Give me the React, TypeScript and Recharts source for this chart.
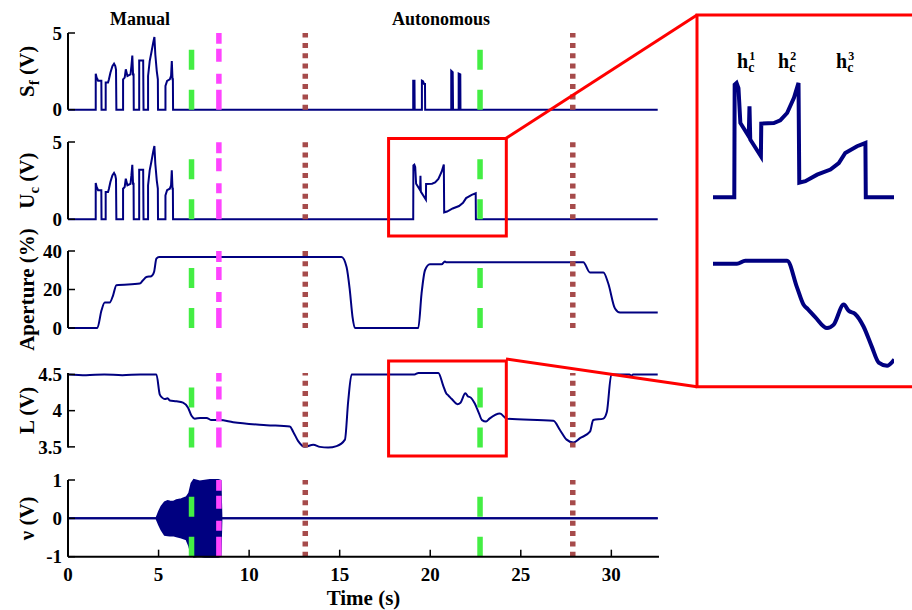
import React from "react"
import {
  LineChart,
  ComposedChart,
  Line,
  Area,
  XAxis,
  YAxis,
  ReferenceLine,
  ReferenceArea,
} from "recharts"

// ---- data (time in s) ----
const X_MAX = 32.63
const X_TICKS = [0, 5, 10, 15, 20, 25, 30]

// event markers
const GREEN_T = [6.82, 22.75]
const MAGENTA_T = [8.33]
const BROWN_T = [13.1, 27.87]

// manual phase: Sf and Uc are identical here
const manualTime = [
  0, 1.53, 1.53, 1.58, 1.62, 1.66, 1.84, 1.85,
  2.08, 2.08, 2.21, 2.26, 2.34, 2.45, 2.54, 2.61, 2.65, 2.67,
  3.04, 3.04, 3.13, 3.19, 3.28, 3.45, 3.5, 3.55, 3.59, 3.62, 3.63,
  3.93, 3.93, 4.15, 4.17,
  4.42, 4.42, 4.51, 4.6, 4.7, 4.77, 4.82, 4.9, 4.96, 4.97,
  5.38, 5.38, 5.47, 5.62, 5.69, 5.73, 5.77, 5.79, 5.8,
]
const manualValue = [
  0, 0, 2.35, 2.09, 2.0, 1.88, 1.88, 0,
  0, 1.77, 1.77, 1.98, 2.41, 2.84, 3.0, 2.84, 2.6, 0,
  0, 1.98, 2.09, 2.63, 2.2, 2.3, 2.84, 3.53, 2.3, 2.3, 0,
  0, 3.21, 3.21, 0,
  0, 2.2, 3.17, 3.71, 4.35, 4.74, 3.6, 2.52, 1.98, 0,
  0, 1.55, 1.88, 1.98, 2.2, 3.17, 1.98, 1.98, 0,
]

// autonomous phase
const sfAutoTime = [19.06, 19.06, 19.13, 19.14, 19.54, 19.54, 19.6, 19.66, 19.71, 19.72, 21.16, 21.16, 21.24, 21.26, 21.57, 21.57, 21.66, 21.67, 32.56]
const sfAutoValue = [0, 1.89, 1.89, 0, 0, 1.89, 1.85, 1.68, 1.68, 0, 0, 2.54, 2.45, 0, 0, 2.35, 2.3, 0, 0]

const ucAutoTime = [18.5, 19.06, 19.07, 19.12, 19.17, 19.22, 19.44, 19.46, 19.48, 19.76, 19.77, 20.1, 20.27, 20.45, 20.63, 20.75, 20.77, 20.93, 21.24, 21.59, 21.81, 21.98, 22.29, 22.51, 22.52, 23.27, 32.56]
const ucAutoValue = [0, 0, 3.49, 3.54, 3.38, 2.3, 1.89, 2.82, 1.79, 1.27, 2.28, 2.3, 2.38, 2.61, 3.08, 3.54, 0.45, 0.5, 0.7, 0.86, 1.06, 1.37, 1.58, 1.68, 0, 0, 0]

const apertureTime = [0, 1.62, 1.85, 2.03, 2.3, 2.49, 2.67, 3.96, 4.14, 4.33, 4.6, 4.75, 4.88, 5.03, 15.1, 15.38, 15.56, 15.71, 15.84, 19.34, 19.52, 19.71, 19.98, 20.63, 20.81, 20.9, 28.45, 28.82, 29.56, 29.83, 30.2, 30.48, 32.56]
const apertureValue = [0, 0, 9.2, 13.2, 13.2, 17, 22.2, 23.1, 24.8, 26.5, 26.9, 29.1, 36, 36.9, 36.9, 31.7, 19.6, 5.7, 0, 0, 17.9, 30, 33.1, 33.1, 34.6, 34.1, 34.1, 28.8, 28.8, 23.1, 10.1, 8, 8]

const lightTime = [
  0, 1, 2, 3, 4, 4.88, 5.07, 5.2, 5.34, 5.5, 5.62, 5.99, 6.35, 6.63, 6.82, 7.0, 7.3, 7.65, 7.92, 8.38,
  9.12, 10.96, 12.25, 12.43, 12.71, 13.08, 13.54, 13.91, 14.36, 14.83, 15.29, 15.47, 15.66, 17, 18.5,
  19.13, 19.35, 20.45, 20.71, 20.88, 21.0, 21.19, 21.5, 21.67, 21.94, 22.07, 22.24, 22.46, 22.68, 22.86,
  23.08, 23.27, 23.85, 24.22, 26.8, 27.17, 27.53, 27.9, 28.27, 28.82, 29.0, 29.56, 29.75, 30.0, 31.0,
  31.1, 31.2, 32.56,
]
const lightValue = [
  4.5, 4.49, 4.5, 4.49, 4.5, 4.5, 4.22, 4.18, 4.16, 4.17, 4.14, 4.13, 4.11, 4.04, 3.93, 3.89, 3.9, 3.9, 3.87, 3.87,
  3.84, 3.8, 3.78, 3.71, 3.58, 3.5, 3.53, 3.5, 3.49, 3.51, 3.6, 4.13, 4.5, 4.5, 4.5,
  4.5, 4.52, 4.52, 4.35, 4.24, 4.21, 4.16, 4.09, 4.11, 4.24, 4.2, 4.18, 4.1, 3.97, 3.87,
  3.85, 3.89, 3.96, 3.89, 3.86, 3.73, 3.6, 3.56, 3.62, 3.71, 3.87, 3.89, 3.98, 4.5, 4.5,
  4.48, 4.5, 4.5,
]

// nu: envelope of the oscillation
const nuTime = [0, 4.88, 5.03, 5.16, 5.34, 5.5, 5.62, 5.8, 5.99, 6.26, 6.54, 6.69, 6.82, 6.95, 7.27, 7.55, 7.83, 8.29, 8.42, 8.47, 32.56]
const nuHigh = [0, 0, 0.18, 0.31, 0.42, 0.45, 0.44, 0.43, 0.47, 0.5, 0.55, 0.65, 0.91, 1.0, 0.96, 0.98, 1.0, 1.0, 0.98, 0, 0]
const nuLow = [0, 0, -0.17, -0.3, -0.43, -0.44, -0.45, -0.44, -0.47, -0.5, -0.55, -0.72, -0.94, -1.0, -0.98, -1.0, -1.0, -1.0, -0.98, 0, 0]

// zoom window shown in the inset
const ZOOM_T = [18.5, 23.27]
const ZOOM_BOX_T = [17.7, 24.2]

const zip = (ts: number[], vs: number[]) => ts.map((t, i) => ({ t, v: vs[i] }))

const sfData = zip([...manualTime, ...sfAutoTime], [...manualValue, ...sfAutoValue])
const ucData = zip([...manualTime, ...ucAutoTime], [...manualValue, ...ucAutoValue])
const apertureData = zip(apertureTime, apertureValue)
const lightData = zip(lightTime, lightValue)
const nuData = nuTime.map((t, i) => ({ t, range: [nuLow[i], nuHigh[i]] }))

const inZoom = (d: { t: number }) => d.t >= ZOOM_T[0] && d.t <= ZOOM_T[1]
const ucInset = ucData.filter(inZoom)
const lightInset = lightData.filter(inZoom)

// ---- styling ----
const SERIF = "'Liberation Serif', 'Times New Roman', serif"
const NAVY = "#000080"
const GREEN = "#44ee44"
const MAGENTA = "#ff44ff"
const BROWN = "#a64b4b"
const RED = "#ff0000"

const CHART_W = 670
const SIDE = { left: 8, right: 11 }

const yAxisStyle = {
  width: 60,
  type: "number" as const,
  axisLine: { stroke: "#000", strokeWidth: 2 },
  tickLine: { stroke: "#000", strokeWidth: 1.5 },
  tickSize: -7,
  tickMargin: 13,
  interval: 0 as const,
  tick: { fill: "#000", fontSize: 19, fontWeight: "bold", fontFamily: SERIF },
}

const eventLines = () => [
  ...BROWN_T.map((t) => (
    <ReferenceLine key={`b${t}`} x={t} stroke={BROWN} strokeWidth={5.5} strokeDasharray="5 5.3" zIndex={450} />
  )),
  ...GREEN_T.map((t) => (
    <ReferenceLine key={`g${t}`} x={t} stroke={GREEN} strokeWidth={5.5} strokeDasharray="20 20" zIndex={450} />
  )),
  ...MAGENTA_T.map((t) => (
    <ReferenceLine key={`m${t}`} x={t} stroke={MAGENTA} strokeWidth={5.5} strokeDasharray="20 6 10 12 13 5 11 6" zIndex={450} />
  )),
]

// rotated y title, with optional subscript
function yTitle(cy: number, main: string, sub: string, rest: string) {
  const cx = 34
  return () => (
    <text
      x={cx}
      y={cy}
      transform={`rotate(-90 ${cx} ${cy})`}
      textAnchor="middle"
      fontFamily={SERIF}
      fontWeight="bold"
      fontSize={21}
      fill="#000"
    >
      {main}
      {sub ? (
        <tspan dy={5} fontSize={15}>
          {sub}
        </tspan>
      ) : null}
      <tspan dy={sub ? -5 : 0}>{rest}</tspan>
    </text>
  )
}

function Panel({
  top,
  bottom,
  mt,
  mb,
  data,
  domain,
  ticks,
  title,
  curve,
  zoomBox,
}: {
  top: number
  bottom: number
  mt: number
  mb: number
  data: { t: number; v: number }[]
  domain: [number, number]
  ticks: number[]
  title: [string, string, string]
  curve: "linear" | "monotone"
  zoomBox?: [number, number]
}) {
  const h = bottom - top + mt + mb
  return (
    <div style={{ position: "absolute", left: 0, top: top - mt, width: CHART_W, height: h }}>
      <LineChart width={CHART_W} height={h} data={data} margin={{ top: mt, bottom: mb, ...SIDE }}>
        <XAxis type="number" dataKey="t" domain={[0, X_MAX]} hide />
        <YAxis
          {...yAxisStyle}
          domain={domain}
          ticks={ticks}
          label={yTitle(mt + (bottom - top) / 2, title[0], title[1], title[2])}
        />
        <Line
          type={curve}
          dataKey="v"
          stroke={NAVY}
          strokeWidth={2}
          dot={false}
          activeDot={false}
          isAnimationActive={false}
        />
        {eventLines()}
        {zoomBox ? (
          <ReferenceArea
            x1={ZOOM_BOX_T[0]}
            x2={ZOOM_BOX_T[1]}
            y1={zoomBox[0]}
            y2={zoomBox[1]}
            ifOverflow="visible"
            fill="none"
            stroke={RED}
            strokeWidth={3}
            zIndex={460}
          />
        ) : null}
      </LineChart>
    </div>
  )
}

function HLabel({ x, n }: { x: number; n: string }) {
  return (
    <text x={x} y={68} fontFamily={SERIF} fontWeight="bold" fontSize={20} fill="#000">
      h
      <tspan dy={4} fontSize={14}>c</tspan>
      <tspan dx={-5} dy={-12} fontSize={12}>{n}</tspan>
    </text>
  )
}

export default function App() {
  const nuTop = 480
  const nuBottom = 556.7
  const nuMt = 30
  const nuMb = 3
  const nuH = nuMt + (nuBottom - nuTop) + 52 + nuMb

  return (
    <div
      style={{
        position: "absolute",
        left: 0,
        top: 0,
        width: 912,
        height: 610,
        overflow: "hidden",
        background: "#fff",
        fontFamily: SERIF,
      }}
    >
      <Panel top={33.3} bottom={110} mt={30} mb={30} data={sfData} domain={[0, 5]} ticks={[0, 5]} title={["S", "f", " (V)"]} curve="linear" />
      <Panel top={141.7} bottom={219} mt={30} mb={30} data={ucData} domain={[0, 5]} ticks={[0, 5]} title={["U", "c", " (V)"]} curve="linear" zoomBox={[-1.08, 5.22]} />
      <Panel top={250.7} bottom={327.7} mt={30} mb={30} data={apertureData} domain={[0, 40]} ticks={[0, 20, 40]} title={["Aperture (%)", "", ""]} curve="monotone" />
      <Panel top={372.7} bottom={447.3} mt={30} mb={30} data={lightData} domain={[3.5, 4.5]} ticks={[3.5, 4, 4.5]} title={["L (V)", "", ""]} curve="monotone" zoomBox={[3.374, 4.684]} />

      {/* nu panel with time axis */}
      <div style={{ position: "absolute", left: 0, top: nuTop - nuMt, width: CHART_W, height: nuH }}>
        <ComposedChart width={CHART_W} height={nuH} data={nuData} margin={{ top: nuMt, bottom: nuMb, ...SIDE }}>
          <XAxis
            type="number"
            dataKey="t"
            domain={[0, X_MAX]}
            ticks={X_TICKS}
            interval={0}
            height={52}
            axisLine={{ stroke: "#000", strokeWidth: 2 }}
            tickLine={{ stroke: "#000", strokeWidth: 1.5 }}
            tickSize={-7}
            tickMargin={18}
            tick={{ fill: "#000", fontSize: 19, fontWeight: "bold", fontFamily: SERIF }}
            label={{
              value: "Time (s)",
              position: "insideBottom",
              offset: 4,
              fill: "#000",
              fontSize: 21,
              fontWeight: "bold",
              fontFamily: SERIF,
            }}
          />
          <YAxis
            {...yAxisStyle}
            domain={[-1, 1]}
            ticks={[-1, 0, 1]}
            label={yTitle(nuMt + (nuBottom - nuTop) / 2, "ν (V)", "", "")}
          />
          <Area
            type="linear"
            dataKey="range"
            stroke={NAVY}
            strokeWidth={2}
            fill={NAVY}
            fillOpacity={1}
            dot={false}
            activeDot={false}
            isAnimationActive={false}
          />
          {eventLines()}
        </ComposedChart>
      </div>

      {/* inset: zoom on Uc */}
      <div style={{ position: "absolute", left: 712.7, top: 76.4, width: 181.3, height: 126.3 }}>
        <LineChart width={181.3} height={126.3} data={ucInset} margin={{ top: 5, bottom: 5, left: 0, right: 0 }}>
          <XAxis type="number" dataKey="t" domain={ZOOM_T} hide />
          <YAxis type="number" domain={[0, 3.6]} hide />
          <Line type="linear" dataKey="v" stroke={NAVY} strokeWidth={4} dot={false} activeDot={false} isAnimationActive={false} />
        </LineChart>
      </div>

      {/* inset: zoom on L */}
      <div style={{ position: "absolute", left: 712.7, top: 250.5, width: 181.3, height: 127.5 }}>
        <LineChart width={181.3} height={127.5} data={lightInset} margin={{ top: 5, bottom: 5, left: 0, right: 0 }}>
          <XAxis type="number" dataKey="t" domain={ZOOM_T} hide />
          <YAxis type="number" domain={[3.8, 4.55]} hide />
          <Line type="monotone" dataKey="v" stroke={NAVY} strokeWidth={4} dot={false} activeDot={false} isAnimationActive={false} />
        </LineChart>
      </div>

      {/* annotations */}
      <svg width={912} height={610} style={{ position: "absolute", left: 0, top: 0, pointerEvents: "none" }}>
        <line x1={506} y1={138.3} x2={697} y2={15} stroke={RED} strokeWidth={3} />
        <line x1={506} y1={359} x2={697} y2={386.7} stroke={RED} strokeWidth={3} />
        <path d="M 915 15 H 697 V 386.7 H 915" fill="none" stroke={RED} strokeWidth={3} />
        <text x={140} y={25} textAnchor="middle" fontFamily={SERIF} fontWeight="bold" fontSize={18} fill="#000">
          Manual
        </text>
        <text x={441} y={25} textAnchor="middle" fontFamily={SERIF} fontWeight="bold" fontSize={18} fill="#000">
          Autonomous
        </text>
        <HLabel x={737} n="1" />
        <HLabel x={778} n="2" />
        <HLabel x={836} n="3" />
      </svg>
    </div>
  )
}
